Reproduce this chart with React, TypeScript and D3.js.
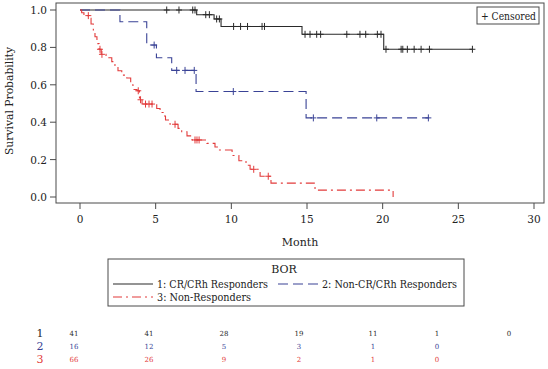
import React from "react";
import * as d3 from "d3";

// group 1: CR/CRh responders
const g1Times = [0, 7.71, 8.86, 9.32, 14.67, 20.07];
const g1Surv = [1, 0.975, 0.952, 0.912, 0.87, 0.79];
const g1End = 25.93;
const g1Censor = [
  5.73, 6.54, 7.45, 7.6, 8.31, 8.55, 9.03, 9.21, 10.15, 10.61, 11.07, 12.03,
  12.19, 14.87, 15.2, 15.64, 15.9, 17.63, 18.5, 18.88, 19.65, 19.89, 20.22,
  21.22, 21.33, 21.63, 22.08, 22.54, 23.09, 25.93,
];

// group 2: Non-CR/CRh responders
const g2Times = [0, 2.64, 4.41, 5.05, 6.06, 7.67, 14.94];
const g2Surv = [1, 0.9375, 0.8125, 0.745, 0.677, 0.564, 0.423];
const g2End = 23.02;
const g2Censor = [4.9, 6.39, 6.94, 7.55, 10.13, 15.42, 19.61, 23.02];

// group 3: Non-responders
const g3Times = [
  0, 0.11, 0.26, 0.6, 0.73, 0.88, 0.99, 1.12, 1.26, 1.4, 1.72, 2.1, 2.31, 2.51,
  2.76, 3.09, 3.35, 3.5, 3.77, 3.93, 4.1, 5.07, 5.29, 5.5, 5.65, 5.95, 6.48,
  6.72, 7.07, 7.4, 8.39, 8.92, 9.12, 10.05, 10.5, 10.97, 11.24, 11.9, 12.62,
  15.53, 20.69,
];
const g3Surv = [
  1, 0.985, 0.97, 0.955, 0.925, 0.893, 0.857, 0.82, 0.79, 0.763, 0.745, 0.724,
  0.697, 0.675, 0.652, 0.636, 0.6, 0.575, 0.568, 0.52, 0.497, 0.473, 0.452,
  0.433, 0.412, 0.389, 0.367, 0.349, 0.327, 0.305, 0.287, 0.267, 0.251, 0.222,
  0.194, 0.17, 0.148, 0.111, 0.074, 0.037, 0,
];
const g3End = 20.69;
const g3Censor = [
  0.55, 1.32, 1.45, 3.85, 4.0, 4.33, 4.56, 4.76, 6.28, 7.6, 7.73, 7.87, 11.48,
  12.44,
];

const xTicks = [0, 5, 10, 15, 20, 25, 30];
const yTicks = [0, 0.2, 0.4, 0.6, 0.8, 1.0];

// numbers at risk
const riskTimes = [0, 5, 10, 15, 20, 25, 30];
const risk1 = [41, 41, 28, 19, 11, 1, 0];
const risk2 = [16, 12, 5, 3, 1, 0];
const risk3 = [66, 26, 9, 2, 1, 0];

const labels = [
  "1: CR/CRh Responders",
  "2: Non-CR/CRh Responders",
  "3: Non-Responders",
];

const colors = ["#2a2a2a", "#3a4396", "#e23b3b"];
const dashes = [undefined, "10,5", "9,4,2,4"];
const font = "'DejaVu Serif', serif";
const frameColor = "#4a4a4a";

const groups = [
  { times: g1Times, surv: g1Surv, end: g1End, censor: g1Censor },
  { times: g2Times, surv: g2Surv, end: g2End, censor: g2Censor },
  { times: g3Times, surv: g3Surv, end: g3End, censor: g3Censor },
];

const App: React.FC = () => {
  const width = 548;
  const height = 369;
  const frame = { left: 56, top: 3, right: 544, bottom: 203 };

  const x = d3.scaleLinear().domain([0, 30]).range([80, 534]);
  const y = d3.scaleLinear().domain([0, 1]).range([197, 10]);
  const colX = d3
    .scaleLinear()
    .domain(riskTimes)
    .range([74, 149, 224, 299, 373, 437, 509]);

  const line = d3
    .line<[number, number]>()
    .x((d) => x(d[0]))
    .y((d) => y(d[1]))
    .curve(d3.curveStepAfter);

  const survAt = (times: number[], surv: number[], t: number) => {
    const i = d3.bisectRight(times, t) - 1;
    return surv[Math.max(0, i)];
  };

  const risks = [risk1, risk2, risk3];
  const txt = { fontFamily: font };
  // legend entry widths
  const legendWidths = [111, 135, 94];

  return (
    <svg
      width={width}
      height={height}
      style={{ position: "absolute", left: 0, top: 0, background: "white" }}
    >
      {/* frame */}
      <rect
        x={frame.left}
        y={frame.top}
        width={frame.right - frame.left}
        height={frame.bottom - frame.top}
        fill="none"
        stroke={frameColor}
        strokeWidth={1}
      />

      {/* y axis */}
      {yTicks.map((t) => (
        <g key={"y" + t}>
          <line
            x1={frame.left - 6}
            x2={frame.left}
            y1={y(t)}
            y2={y(t)}
            stroke={frameColor}
          />
          <text
            x={frame.left - 9}
            y={y(t) + 4}
            textAnchor="end"
            fontSize={10.5}
            fill="#222"
            style={txt}
          >
            {t.toFixed(1)}
          </text>
        </g>
      ))}
      <text
        transform={`translate(13,${(frame.top + frame.bottom) / 2 - 2}) rotate(-90)`}
        textAnchor="middle"
        fontSize={11}
        fill="#222"
        style={txt}
        textLength={108}
        lengthAdjust="spacingAndGlyphs"
      >
        Survival Probability
      </text>

      {/* x axis */}
      {xTicks.map((t) => (
        <g key={"x" + t}>
          <line
            x1={x(t)}
            x2={x(t)}
            y1={frame.bottom}
            y2={frame.bottom + 6}
            stroke={frameColor}
          />
          <text
            x={x(t)}
            y={frame.bottom + 20}
            textAnchor="middle"
            fontSize={10.5}
            fill="#222"
            style={txt}
          >
            {t}
          </text>
        </g>
      ))}
      <text
        x={300}
        y={246}
        textAnchor="middle"
        fontSize={11}
        fill="#222"
        style={txt}
      >
        Month
      </text>

      {/* curves */}
      {groups.map((g, i) => {
        const pts: [number, number][] = g.times.map((t, k) => [t, g.surv[k]]);
        const last = pts[pts.length - 1];
        if (g.end > last[0]) pts.push([g.end, last[1]]);
        return (
          <path
            key={"c" + i}
            d={line(pts) || ""}
            fill="none"
            stroke={colors[i]}
            strokeWidth={1.1}
            strokeDasharray={dashes[i]}
          />
        );
      })}

      {/* censor marks */}
      {groups.map((g, i) =>
        g.censor.map((t, k) => {
          const cx = x(t);
          const cy = y(survAt(g.times, g.surv, t));
          return (
            <path
              key={"m" + i + "-" + k}
              d={`M${cx},${cy - 3.5}V${cy + 3.5}M${cx - 3},${cy}H${cx + 3}`}
              stroke={colors[i]}
              strokeWidth={1}
              fill="none"
            />
          );
        }),
      )}

      {/* censored legend */}
      <rect
        x={477}
        y={7}
        width={62}
        height={17}
        fill="white"
        stroke={frameColor}
      />
      <text
        x={481}
        y={19.5}
        fontSize={11}
        fill="#222"
        style={txt}
        textLength={55}
        lengthAdjust="spacingAndGlyphs"
      >
        + Censored
      </text>

      {/* group legend */}
      <rect
        x={108}
        y={259}
        width={356}
        height={47}
        fill="none"
        stroke={frameColor}
      />
      <text
        x={284}
        y={273}
        textAnchor="middle"
        fontSize={11}
        fill="#222"
        style={txt}
      >
        BOR
      </text>
      {[
        { lx: 113, ly: 284 },
        { lx: 278, ly: 284 },
        { lx: 113, ly: 297 },
      ].map((p, i) => (
        <g key={"l" + i}>
          <line
            x1={p.lx}
            x2={p.lx + 40}
            y1={p.ly}
            y2={p.ly}
            stroke={colors[i]}
            strokeWidth={1.1}
            strokeDasharray={dashes[i]}
          />
          <text
            x={p.lx + 44}
            y={p.ly + 4}
            fontSize={11}
            fill="#222"
            style={txt}
            textLength={legendWidths[i]}
            lengthAdjust="spacingAndGlyphs"
          >
            {labels[i]}
          </text>
        </g>
      ))}

      {/* numbers at risk */}
      {risks.map((r, i) => (
        <g key={"r" + i}>
          <text
            x={40}
            y={337 + i * 13}
            textAnchor="middle"
            fontSize={11}
            fill={colors[i]}
            style={txt}
          >
            {i + 1}
          </text>
          {r.map((v, k) => (
            <text
              key={k}
              x={colX(riskTimes[k])}
              y={336 + i * 13}
              textAnchor="middle"
              fontSize={7}
              fill={colors[i]}
              style={txt}
            >
              {v}
            </text>
          ))}
        </g>
      ))}
    </svg>
  );
};

export default App;
